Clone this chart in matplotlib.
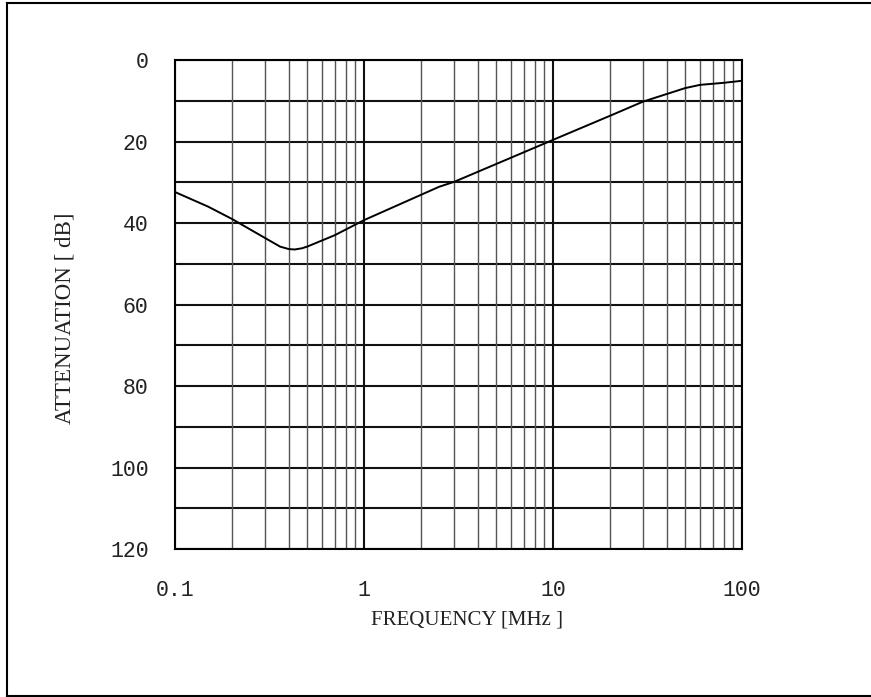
import matplotlib
matplotlib.use("Agg")
import matplotlib.pyplot as plt
from matplotlib.lines import Line2D
from matplotlib.ticker import FixedLocator, NullFormatter

# attenuation curve
freq_mhz = [0.1, 0.15, 0.2, 0.3, 0.36, 0.4, 0.43, 0.47, 0.5, 0.7, 1.0, 2.5, 3.0,
            8.2, 10, 20, 30, 50, 60, 80, 100]
atten_db = [32.4, 36.0, 39.0, 43.7, 45.8, 46.4, 46.5, 46.2, 45.8, 43.0, 39.3, 31.1,
            29.9, 21.3, 19.6, 13.7, 10.2, 6.9, 6.1, 5.6, 5.1]

x_ticks = [0.1, 1, 10, 100]
x_labels = ["0.1", "1", "10", "100"]
y_ticks = [0, 20, 40, 60, 80, 100, 120]
y_grid = [0, 10, 20, 30, 40, 50, 60, 70, 80, 90, 100, 110, 120]
minor_x = [m * d for d in [0.1, 1, 10] for m in range(2, 10)]

W, H = 871, 697
fig = plt.figure(figsize=(W / 100, H / 100), dpi=100)
ax = fig.add_axes([175 / W, 1 - 549 / H, (742 - 175) / W, (549 - 60) / H])

ax.set_xscale("log")
ax.set_xlim(0.1, 100)
ax.set_ylim(120, 0)

# grid
for v in y_grid:
    ax.axhline(v, color="#111111", lw=1.5, zorder=1)
for v in x_ticks:
    ax.axvline(v, color="#111111", lw=1.5, zorder=1)
for v in minor_x:
    ax.axvline(v, color="#555555", lw=1.0, zorder=1)

ax.plot(freq_mhz, atten_db, color="black", lw=1.4, zorder=3)

ax.xaxis.set_major_locator(FixedLocator(x_ticks))
ax.xaxis.set_minor_locator(FixedLocator(minor_x))
ax.xaxis.set_minor_formatter(NullFormatter())
ax.set_xticklabels(x_labels)
ax.set_yticks(y_ticks)
ax.set_yticklabels([str(v) for v in y_ticks])
ax.tick_params(which="both", length=0)
ax.tick_params(axis="x", pad=22)
ax.tick_params(axis="y", pad=19)
for lbl in ax.get_xticklabels() + ax.get_yticklabels():
    lbl.set_fontfamily("Liberation Mono")
    lbl.set_fontsize(15.5)
    lbl.set_color("#222222")

for s in ax.spines.values():
    s.set_linewidth(1.5)
    s.set_color("black")

fig.text(467 / W, 1 - 620 / H, "FREQUENCY [MHz ]", family="Liberation Serif",
         fontsize=15, ha="center", va="center", color="#222222")
fig.text(65 / W, 1 - 318 / H, "ATTENUATION [ dB]", family="Liberation Serif",
         fontsize=16.5, ha="center", va="center", rotation=90, color="#222222")

# outer frame
fig.add_artist(Line2D([7 / W, 7 / W], [1 - 696 / H, 1 - 3 / H], color="black", lw=1.5))
fig.add_artist(Line2D([7 / W, 1], [1 - 3 / H, 1 - 3 / H], color="black", lw=1.5))
fig.add_artist(Line2D([7 / W, 1], [1 - 696 / H, 1 - 696 / H], color="black", lw=1.5))

fig.savefig("out.png", dpi=100)
plt.close(fig)
